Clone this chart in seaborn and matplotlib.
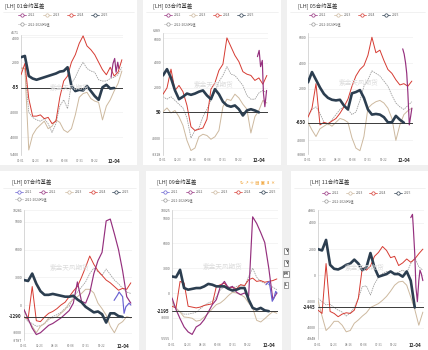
import matplotlib
matplotlib.use("Agg")
import numpy as np
import pandas as pd
import matplotlib.pyplot as plt
import matplotlib.transforms as mtransforms
from matplotlib.lines import Line2D
from matplotlib.patches import Rectangle
import seaborn as sns

sns.set_theme(style="white")
plt.rcParams["font.family"] = ["Noto Sans CJK SC", "DejaVu Sans"]
plt.rcParams["axes.unicode_minus"] = False

# ---------------- data ----------------
GRID_DATES = ["01-01", "01-15", "01-29", "02-12", "02-26", "03-12", "03-26", "04-09", "04-23",
              "05-07", "05-21", "06-04", "06-18", "07-02", "07-16", "07-30", "08-13", "08-27",
              "09-10", "09-24", "10-08", "10-22", "11-05", "11-19", "12-03", "12-17", "12-31"]
XTICK_DATES = ["01-01", "02-23", "04-16", "06-08", "07-31", "09-22", "12-04"]

# 01 contract
C01_2025 = [2400, 2500, 900, 700, 600, 700, 800, 900, 1000, 1100, 1250, 1300, 1600, 100, -300, -200,
            -250, 100, -300, -700, -1000, 0, 200, -100, -55, None, None]
C01_2024 = [1000, 1900, -900, -2300, -2300, -2200, -2500, -2400, -2900, -2700, -800, 500, 900, 2000,
            2600, 3500, 4100, 3300, 3000, 2600, 2000, 1400, 1000, 1600, 900, 1200, 2200]
C01_2023 = [1500, 1500, -5000, -3800, -3300, -3000, -2700, -3300, -3100, -2600, -2800, -3400, -3600,
            -3300, -2200, -800, -500, -400, -900, -1100, -1200, -2600, -1500, -1000, -300, 300, 1300]
C01_MEAN = [1600, 1500, -2000, -2400, -2600, -2700, -2500, -2900, -3600, -2900, -1500, -1000, -1700,
            300, 800, 1500, 2000, 1500, 1300, 1200, 600, 500, 500, 700, 800, 1000, 1600]
C01_2022_DATES = ["11-22", "11-29", "12-05", "12-10", "12-16", "12-20"]
C01_2022 = [800, 1900, 2300, 1200, 2000, 1500]
C01_YTICKS = [4171, 4000, 2000, -2000, -4000, -5400]
C01_LAST = -55

# 03 contract
C03_2025 = [3000, 3500, 2800, 1800, 1100, 1300, 1550, 1450, 1550, 1700, 1800, 1400, 1100, 1900, 1500,
            900, 600, 500, 600, 300, -200, 200, 300, 200, 50, None, None]
C03_2024 = [1500, 2000, 3500, 1800, 2200, 1700, 600, -1100, -1400, -1300, -1200, -500, 1900, 2400,
            3400, 3900, 6000, 5300, 4600, 4100, 3300, 3100, 3000, 2600, 2800, 2300, 3000]
C03_2023 = [100, 400, 0, 200, -300, -1000, -2200, -3000, -2800, -1900, -1700, -1800, -2100, -1900,
            -1400, 500, 1100, 1000, 1500, 1200, 700, 300, -1600, -300, 200, 1000, 800]
C03_MEAN = [1300, 1100, 1300, 1000, 700, 400, -400, -2000, -1400, -1200, -300, 300, 1000, 1700, 2500,
            3000, 3700, 3100, 3000, 2600, 2200, 1400, 1100, 1100, 1600, 1800, 1600]
C03_2022_DATES = ["11-28", "12-04", "12-09", "12-15", "12-19", "12-24", "12-30"]
C03_2022 = [4500, 5000, 3700, 4200, 1600, 500, 1800]
C03_YTICKS = [6389, 6000, 4000, 2000, -2000, -3318]
C03_LAST = 50

# 05 contract
C05_2025 = [2500, 3300, 2700, 2100, 1600, 1300, 1150, 1100, 1150, 700, 400, 1650, 1750, 1900, 1300,
            400, 0, 50, 0, -200, -600, -600, -100, -400, -630, None, None]
C05_2024 = [-200, 500, 2400, -800, -600, -700, -500, -300, 100, 600, 1200, 2200, 3000, 3500, 3800,
            4600, 6000, 4800, 5000, 4200, 3500, 3200, 2700, 2300, 2400, 2200, 2600]
C05_2023 = [-600, -1200, -1700, -1100, -900, -700, -900, -600, -300, -400, -600, -1800, -2600, -2800,
            -1700, 500, 800, 1000, 1100, 900, 500, -300, -2000, -800, 0, 300, 500]
C05_MEAN = [-100, 400, 600, 100, -600, -800, -400, 0, 400, 600, 400, 0, 200, 1100, 2200, 2700, 3400,
            3200, 3000, 2600, 2200, 1500, 900, 600, 400, 700, 1000]
C05_2022_DATES = ["11-29", "12-04", "12-09", "12-13", "12-17", "12-22", "12-27", "12-31"]
C05_2022 = [5100, 4700, 4000, 3200, 1700, -800, -100, 500]
C05_YTICKS = [6000, 4000, 2000, -2000, -3080]
C05_TOP = 6330
C05_LAST = -630

# 07 contract
C07_2025 = [2700, 2600, 3400, 2300, 1500, 1100, 1100, 1200, 1100, 1000, 900, 900, 1000, 600, 300,
            -200, -500, -800, -700, -1000, -1900, -900, -900, -1200, -1290, None, None]
C07_2024 = [-1300, -1500, 2000, -1700, -1800, -1300, -900, -700, -400, 0, 300, 900, 1500, 2000, 3000,
            4100, 5300, 4400, 3700, 3200, 2700, 2400, 2000, 1600, 1800, 1700, 2400]
C07_2023 = [-500, -1600, -2300, -3000, -2300, -2000, -1400, -1400, -1300, -900, -500, 200, 600, 900,
            1250, 1700, 1700, 1300, 200, -400, -1100, -2300, -3000, -2100, -1800, -1250, -1400]
C07_2022 = [-500, -1500, -2500, -3200, -3000, -2600, -2200, -2000, -1700, -1400, -1000, -600, 200,
            2500, 400, 200, 1300, 3400, 4800, 5700, 9100, 9300, 7700, 6000, 3700, 900, 200]
C07_MEAN = [-1250, -1800, -2000, -2300, -2250, -2000, -1600, -1250, -1050, -800, -350, -150, 900,
            1400, 1950, 2500, 3400, 4000, 3600, 3200, 3900, 3300, 2700, 2300, 1800, 1400, 1250]
C07_2021_DATES = ["11-04", "11-16", "11-21", "12-03", "12-08", "12-14", "12-25", "12-31"]
C07_2021 = [500, 1100, 1400, 900, -900, -200, 200, 0]
C07_YTICKS = [10281, 9000, 6000, 3000, 0, -3000, -3787]
C07_LAST = -1290

# 09 contract
C09_2025 = [2000, 1900, 2800, 600, 400, 500, 600, 600, 800, 1100, 1000, 800, 800, 800, 500, 300, 400,
            600, 600, -800, -1800, -2000, -1800, -2100, -2195, None, None]
C09_2024 = [-1600, -1800, 1400, 1200, -1600, -1700, -1800, -1700, -1500, -1400, -1300, 800, 1000, 1200,
            600, 700, 500, 1000, 900, 1600, 1800, 1400, 1500, 1300, 1400, 1500, 1700]
C09_2023 = [-1000, -1800, -2300, -2900, -2950, -3050, -3400, -3300, -2900, -2450, -1900, -1400, -1200,
            -800, -300, 100, 0, -200, -500, -1200, -1800, -3300, -3500, -3100, -2650, -2250, -2450]
C09_2022 = [-600, -2000, -3100, -4100, -4700, -5000, -4100, -3800, -3200, -2300, -1400, -800, 800,
            1400, 600, 800, 100, -200, 0, -400, 9200, 8400, 7300, 6100, 3000, -800, 0]
C09_MEAN = [-1200, -1900, -2300, -2550, -2550, -2450, -2350, -1900, -1500, -1200, -1000, -500, 400,
            700, 800, 600, 800, 1000, 800, 2000, 3000, 1900, 1400, 1200, 1000, 700, 400]
C09_2021_DATES = ["11-23", "12-04", "12-09", "12-15", "12-21", "12-27", "12-31"]
C09_2021 = [1000, 1400, 400, -1000, -600, 200, 0]
C09_YTICKS = [10025, 9000, 6000, 3000, 0, -3000, -5555]
C09_LAST = -2195

# 11 contract
C11_2025 = [2000, 1900, 2700, 800, 500, 450, 600, 800, 900, 1200, 900, 400, 600, 1700, 600, -100, 0,
            100, 300, 100, 100, -100, 300, -400, -2445, None, None]
C11_2024 = [-2650, -2900, 900, -2750, -2900, -3150, -2950, -2850, -2900, -2650, -1750, 600, 400, 700,
            1450, 1750, 2200, 1900, 1350, 1450, 750, 950, 1250, 1000, 1250, 1650, 2000]
C11_2023 = [-1900, -3100, -4200, -3900, -3500, -3500, -3800, -4300, -4200, -3650, -3400, -3100, -2850,
            -2450, -2300, -2150, -1900, -1600, -1200, -750, -500, -450, -750, -1650, -2600, -3800, -2800]
C11_MEAN = [-1750, -2000, -2250, -2200, -2450, -2650, -2800, -3100, -2850, -2450, -1750, -850, -800,
            -1500, -650, -150, 150, 300, 300, 150, 250, 400, 200, 900, 1350, 650, 400]
C11_2022_DATES = ["11-19", "11-25", "11-28", "12-03", "12-07", "12-12", "12-17", "12-21", "12-26", "12-31"]
C11_2022 = [4400, 4650, 3600, 1600, -900, -2000, -400, 400, 100, -400]
C11_YTICKS = [4981, 4000, 2000, 0, -2000, -4000, -4848]
C11_LAST = -2445

COLORS = {"2021": "#6a62d2", "2022": "#95307e", "2023": "#cdb99f", "2024": "#d63b32",
          "2025": "#2c3e50", "mean": "#9a9a9a"}

# ---------------- figure ----------------
W, H = 428, 350
fig = plt.figure(figsize=(W / 100, H / 100), dpi=100)
fig.patch.set_facecolor("white")


def fx(p):
    return p / W


def fy(p):
    return 1 - p / H


def doy(md):
    return pd.Timestamp("2025-" + md).dayofyear - 1


# card separators
for (x0, y0, w, h) in [(137, 0, 6, 166), (281, 0, 6, 166), (0, 165, W, 6),
                       (139, 170, 7, 180), (282, 170, 9, 180)]:
    fig.add_artist(Rectangle((fx(x0), fy(y0 + h)), w / W, h / H, transform=fig.transFigure,
                             facecolor="#f0f0f0", edgecolor="none", zorder=0))


def draw_series(ax, dates, vals, key, lw, ls="-", z=2):
    df = pd.DataFrame({"day": [doy(d) for d in dates], "val": np.array(vals, dtype=float)}).dropna()
    sns.lineplot(data=df, x="day", y="val", ax=ax, color=COLORS[key], linewidth=lw,
                 linestyle=ls, estimator=None, sort=False, legend=False, zorder=z)


def legend_item(x, y, key, label):
    c = COLORS[key]
    ls = (0, (1.5, 1)) if key == "mean" else "-"
    fig.add_artist(Line2D([fx(x - 4), fx(x + 4)], [fy(y), fy(y)], transform=fig.transFigure,
                          color=c, lw=0.5, ls=ls))
    fig.add_artist(Line2D([fx(x)], [fy(y)], transform=fig.transFigure, marker="o", ms=2.4,
                          mfc="white", mec=c, mew=0.5, lw=0))
    fig.text(fx(x + 6), fy(y), label, fontsize=2.4, color="#666666", va="center", ha="left")


PANELS = [
    dict(title="[LH] 01合约基差", tpos=(5, 6), card=(0, 137), box=(21, 123, 35, 155),
         yticks=C01_YTICKS, ytop=None, last=C01_LAST, wm=(70, 88), lift_top=True,
         full=[("mean", C01_MEAN), ("2023", C01_2023), ("2024", C01_2024), ("2025", C01_2025)],
         short=[("2022", C01_2022_DATES, C01_2022)],
         legend=[("2022", 22, 15), ("2023", 47, 15), ("2024", 71, 15), ("2025", 95, 15)],
         mean_label="2022-2024均值", mean_pos=(22, 24)),
    dict(title="[LH] 03合约基差", tpos=(153, 6), card=(143, 281), box=(163, 268, 33, 154.5),
         yticks=C03_YTICKS, ytop=None, last=C03_LAST, wm=(214, 85), lift_top=True,
         full=[("mean", C03_MEAN), ("2023", C03_2023), ("2024", C03_2024), ("2025", C03_2025)],
         short=[("2022", C03_2022_DATES, C03_2022)],
         legend=[("2022", 168, 15), ("2023", 193, 15), ("2024", 217, 15), ("2025", 241, 15)],
         mean_label="2022-2024均值", mean_pos=(168, 24)),
    dict(title="[LH] 05合约基差", tpos=(298, 6), card=(287, 428), box=(308, 413, 33, 154.3),
         yticks=C05_YTICKS, ytop=C05_TOP, last=C05_LAST, wm=(359, 83), lift_top=False,
         full=[("mean", C05_MEAN), ("2023", C05_2023), ("2024", C05_2024), ("2025", C05_2025)],
         short=[("2022", C05_2022_DATES, C05_2022)],
         legend=[("2022", 313, 15), ("2023", 338, 15), ("2024", 362, 15), ("2025", 386, 15)],
         mean_label="2022-2024均值", mean_pos=(313, 24)),
    dict(title="[LH] 07合约基差", tpos=(12, 182), card=(0, 139), box=(24, 132, 210, 340),
         yticks=C07_YTICKS, ytop=None, last=C07_LAST, wm=(70, 268), lift_top=False,
         full=[("mean", C07_MEAN), ("2023", C07_2023), ("2024", C07_2024), ("2022", C07_2022),
               ("2025", C07_2025)],
         short=[("2021", C07_2021_DATES, C07_2021)],
         legend=[("2021", 19, 192), ("2022", 43, 192), ("2023", 69, 192), ("2024", 93, 192),
                 ("2025", 116, 192)],
         mean_label="2021-2024均值", mean_pos=(19, 199)),
    dict(title="[LH] 09合约基差", tpos=(157, 182), card=(146, 282), box=(172, 278, 210, 339),
         yticks=C09_YTICKS, ytop=None, last=C09_LAST, wm=(223, 267), lift_top=False,
         full=[("mean", C09_MEAN), ("2023", C09_2023), ("2024", C09_2024), ("2022", C09_2022),
               ("2025", C09_2025)],
         short=[("2021", C09_2021_DATES, C09_2021)],
         legend=[("2021", 165, 192), ("2022", 190, 192), ("2023", 215, 192), ("2024", 238, 192),
                 ("2025", 263, 192)],
         mean_label="2021-2024均值", mean_pos=(165, 200)),
    dict(title="[LH] 11合约基差", tpos=(310, 182), card=(291, 428), box=(318, 424, 210, 339),
         yticks=C11_YTICKS, ytop=None, last=C11_LAST, wm=(365, 268), lift_top=False,
         full=[("mean", C11_MEAN), ("2023", C11_2023), ("2024", C11_2024), ("2025", C11_2025)],
         short=[("2022", C11_2022_DATES, C11_2022)],
         legend=[("2022", 326, 193), ("2023", 350, 193), ("2024", 373, 193), ("2025", 398, 193)],
         mean_label="2022-2024均值", mean_pos=(326, 201)),
]

for p in PANELS:
    L, R, T, B = p["box"]
    ax = fig.add_axes([fx(L), fy(B), (R - L) / W, (B - T) / H])
    ax.set_facecolor("white")
    ymin = min(p["yticks"])
    ymax = p["ytop"] if p["ytop"] is not None else max(p["yticks"])
    ax.set_xlim(0, 368)
    ax.set_ylim(ymin, ymax)

    for t in p["yticks"]:
        ax.axhline(t, color="#ececec", lw=0.4, zorder=0)

    for key, vals in p["full"]:
        if key == "mean":
            draw_series(ax, GRID_DATES, vals, key, 0.55, ls=(0, (2, 1)), z=2)
        elif key == "2025":
            draw_series(ax, GRID_DATES, vals, key, 1.9, z=5)
        elif key == "2022":
            draw_series(ax, GRID_DATES, vals, key, 0.85, z=3)
        else:
            draw_series(ax, GRID_DATES, vals, key, 0.7, z=3)
    for key, dates, vals in p["short"]:
        draw_series(ax, dates, vals, key, 0.85, z=4)

    ax.axhline(p["last"], color="#3a3a3a", lw=0.7, zorder=4)
    trans = mtransforms.blended_transform_factory(ax.transAxes, ax.transData)
    ax.text(-0.02, p["last"], str(p["last"]), transform=trans, ha="right", va="center",
            fontsize=3.3, fontweight="bold", color="#2b2b2b", clip_on=False, zorder=6,
            bbox=dict(boxstyle="square,pad=0.12", fc="white", ec="none"))

    ax.set_yticks(p["yticks"])
    ax.set_yticklabels([str(t) for t in p["yticks"]], fontsize=2.6, color="#666666")
    if p["lift_top"]:
        top_lab = ax.get_yticklabels()[0]
        top_lab.set_va("bottom")
        top_lab.set_transform(top_lab.get_transform() +
                              mtransforms.ScaledTranslation(0, 1.2 / 72, fig.dpi_scale_trans))
        nxt = ax.get_yticklabels()[1]
        nxt.set_va("top")
    ax.set_xticks([doy(d) for d in XTICK_DATES])
    ax.set_xticklabels(XTICK_DATES, fontsize=2.2, color="#777777")
    lab = ax.get_xticklabels()[-1]
    lab.set_fontweight("bold")
    lab.set_fontsize(3.3)
    lab.set_color("#2b2b2b")
    ax.tick_params(axis="y", length=0, pad=1.3)
    ax.tick_params(axis="x", length=0, pad=2.6)
    ax.set_xlabel("")
    ax.set_ylabel("")
    for s in ["top", "right", "bottom"]:
        ax.spines[s].set_visible(False)
    ax.spines["left"].set_color("#c8c8c8")
    ax.spines["left"].set_linewidth(0.5)

    # title, separator, legend, watermark
    tx, ty = p["tpos"]
    fig.text(fx(tx), fy(ty), p["title"], fontsize=3.9, color="#333333", va="center", ha="left")
    c0, c1 = p["card"]
    fig.add_artist(Line2D([fx(c0 + 3), fx(c1 - 3)], [fy(ty + 6), fy(ty + 6)],
                          transform=fig.transFigure, color="#e6e6e6", lw=0.4))
    for key, x, y in p["legend"]:
        legend_item(x, y, key, key)
    mx, my = p["mean_pos"]
    legend_item(mx, my, "mean", p["mean_label"])
    wx, wy = p["wm"]
    fig.text(fx(wx), fy(wy), "紫金天风期货", fontsize=4.8, color="#dcdcdc", ha="center",
             va="center", zorder=1)

# toolbar icons on 09 panel
fig.text(fx(240), fy(182), "↻ ↗ ☆ ▤ ▣ ⬇ ✕", fontsize=3.2, color="#f0a030", va="center",
         ha="left", family=["DejaVu Sans"])
# side buttons
for lbl, yy in [("Y", 251), ("Y", 263), ("M", 274), ("L", 285)]:
    fig.text(fx(286), fy(yy), lbl, fontsize=2.8, fontweight="bold", color="#333333",
             ha="center", va="center", family=["DejaVu Sans"],
             bbox=dict(boxstyle="square,pad=0.2", fc="white", ec="#555555", lw=0.4))

fig.savefig("out.png", dpi=100, facecolor="white")
